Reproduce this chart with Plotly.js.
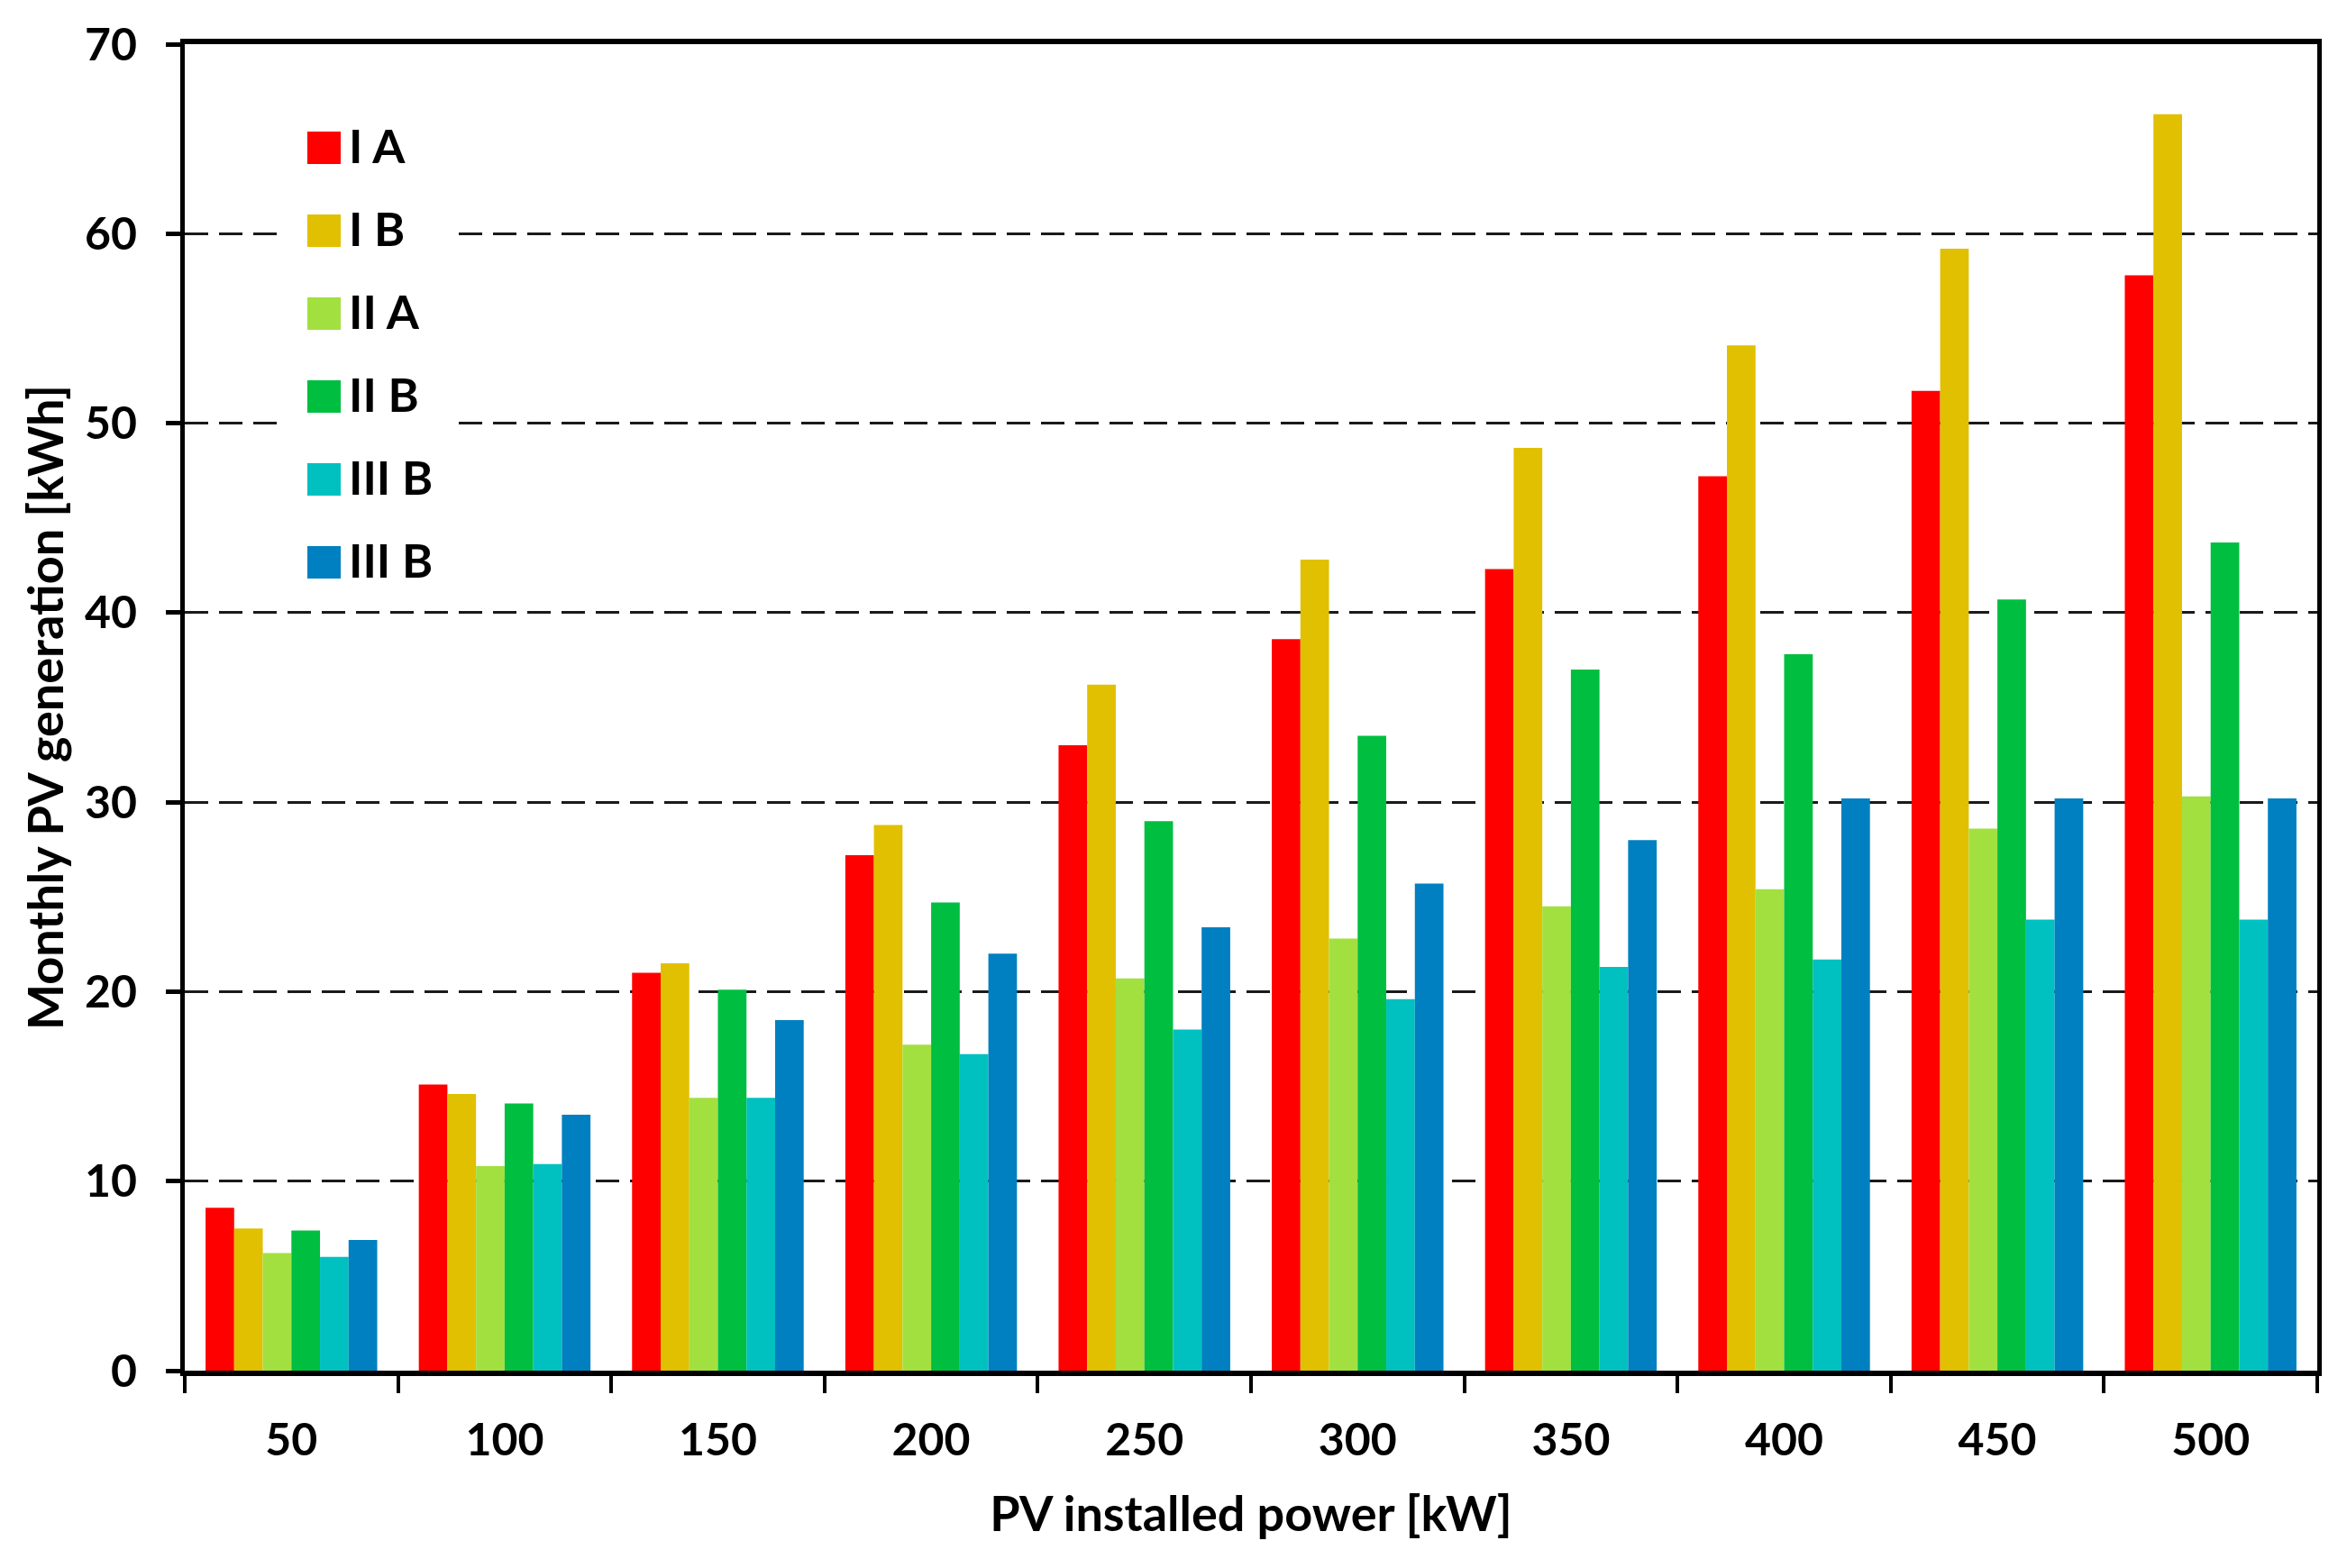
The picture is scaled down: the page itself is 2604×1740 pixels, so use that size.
<!DOCTYPE html>
<html>
<head>
<meta charset="utf-8">
<script src="https://cdn.plot.ly/plotly-3.0.1.min.js"></script>
<style>
  body { margin: 0; background: #fff; }
  #chartContainer { width: 2604px; height: 1740px; }
</style>
</head>
<body>
<div id="chartContainer"></div>
<script>
// PV installed power categories [kW]
var powers = ['50', '100', '150', '200', '250', '300', '350', '400', '450', '500'];

// monthly PV generation [kWh] per scenario
var iA   = [8.6, 15.1, 21.0, 27.2, 33.0, 38.6, 42.3, 47.2, 51.7, 57.8];
var iB   = [7.5, 14.6, 21.5, 28.8, 36.2, 42.8, 48.7, 54.1, 59.2, 66.3];
var iiA  = [6.2, 10.8, 14.4, 17.2, 20.7, 22.8, 24.5, 25.4, 28.6, 30.3];
var iiB  = [7.4, 14.1, 20.1, 24.7, 29.0, 33.5, 37.0, 37.8, 40.7, 43.7];
var iiiB1 = [6.0, 10.9, 14.4, 16.7, 18.0, 19.6, 21.3, 21.7, 23.8, 23.8];
var iiiB2 = [6.9, 13.5, 18.5, 22.0, 23.4, 25.7, 28.0, 30.2, 30.2, 30.2];

var names  = ['I A', 'I B', 'II A', 'II B', 'III B', 'III B'];
var colors = ['#ff0000', '#e0c000', '#a2e040', '#00be40', '#00c0c0', '#0080c0'];
var series = [iA, iB, iiA, iiB, iiiB1, iiiB2];

var fontFam = 'Lato, "Open Sans", sans-serif';
var W = 2604, H = 1740;
var m = { l: 205, r: 33, t: 49, b: 219 };
var plotW = W - m.l - m.r, plotH = H - m.t - m.b;

// pixel -> paper helpers, used for the hand-placed legend
function px(X) { return (X - m.l) / plotW; }
function py(Y) { return 1 - (Y - m.t) / plotH; }

var data = series.map(function (vals, i) {
  return {
    x: powers,
    y: vals,
    name: names[i],
    type: 'bar',
    marker: { color: colors[i], line: { width: 0 } },
    hoverinfo: 'x+y+name'
  };
});

// legend drawn by hand: big squares, wide spacing, white backing over the grid
var shapes = [{
  type: 'rect', xref: 'paper', yref: 'paper', layer: 'above',
  x0: px(308), x1: px(502), y0: py(120), y1: py(668),
  fillcolor: '#ffffff', line: { width: 0 }
}];
var annotations = [];
names.forEach(function (nm, i) {
  var cy = 164 + 92 * i;
  shapes.push({
    type: 'rect', xref: 'paper', yref: 'paper', layer: 'above',
    x0: px(341), x1: px(378), y0: py(cy + 18), y1: py(cy - 18),
    fillcolor: colors[i], line: { width: 0 }
  });
  annotations.push({
    xref: 'paper', yref: 'paper', x: px(385), y: py(cy - 3),
    xanchor: 'left', yanchor: 'middle', showarrow: false,
    text: nm,
    font: { family: fontFam, size: 52, color: '#000', weight: 'bold' }
  });
});

var layout = {
  width: W,
  height: H,
  margin: m,
  paper_bgcolor: '#ffffff',
  plot_bgcolor: '#ffffff',
  font: { family: fontFam, size: 50, color: '#000', weight: 'bold' },
  barmode: 'group',
  bargap: 0.195,
  bargroupgap: 0,
  showlegend: false,
  shapes: shapes,
  annotations: annotations,
  xaxis: {
    type: 'category',
    title: {
      text: 'PV installed power [kW]',
      font: { family: fontFam, size: 54, weight: 'bold' },
      standoff: 38
    },
    tickson: 'boundaries',
    ticks: 'outside',
    ticklen: 19,
    tickwidth: 4,
    tickcolor: '#000',
    ticklabelstandoff: 28,
    tickfont: { family: fontFam, size: 50, weight: 'bold' },
    showline: true,
    linewidth: 6,
    linecolor: '#000',
    mirror: true,
    showgrid: false,
    zeroline: false
  },
  yaxis: {
    range: [0, 70],
    dtick: 10,
    tick0: 0,
    title: {
      text: 'Monthly PV generation [kWh]',
      font: { family: fontFam, size: 54, weight: 'bold' },
      standoff: 8
    },
    ticks: 'outside',
    ticklen: 16,
    tickwidth: 5,
    tickcolor: '#000',
    ticklabelstandoff: 22,
    tickfont: { family: fontFam, size: 50, weight: 'bold' },
    showline: true,
    linewidth: 5,
    linecolor: '#000',
    mirror: true,
    showgrid: true,
    gridcolor: '#1a1a1a',
    gridwidth: 3,
    griddash: '26px,12px',
    zeroline: false
  }
};

Plotly.newPlot('chartContainer', data, layout, { staticPlot: true, responsive: false });
</script>
</body>
</html>
